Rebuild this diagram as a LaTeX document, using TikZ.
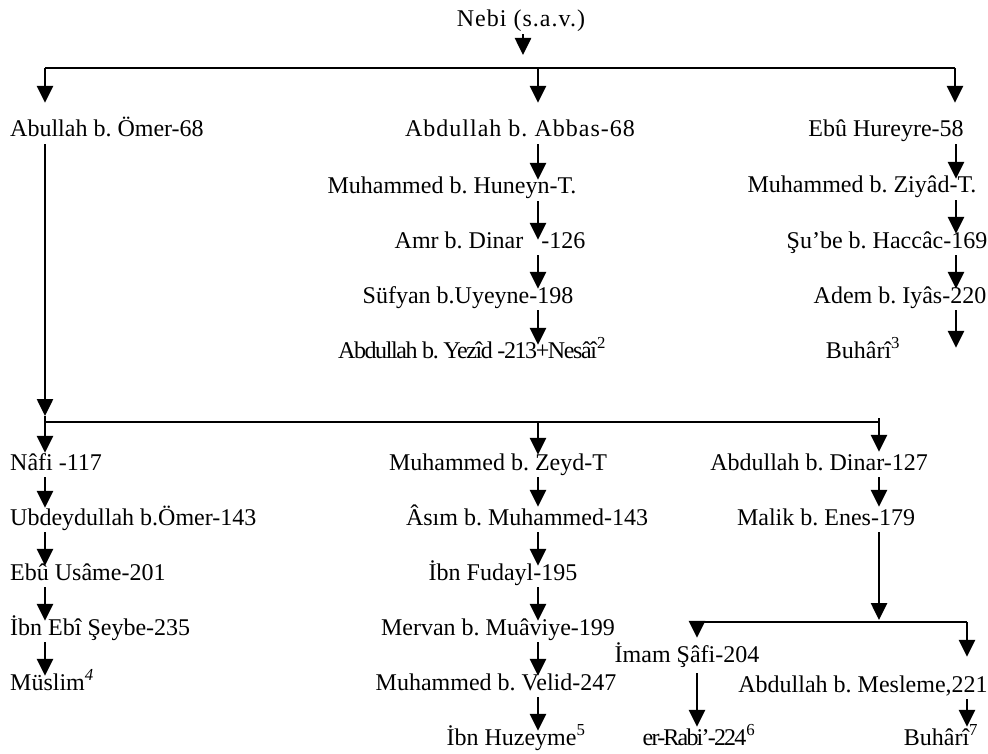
\documentclass[tikz,border=0pt]{standalone}
\usepackage{fontspec}
\setmainfont{Liberation Serif}
\usetikzlibrary{arrows.meta}
\frenchspacing
% tracking adjustments for a few wider or tighter lines
\newcommand{\wide}{\addfontfeatures{LetterSpace=4.2}}
\newcommand{\tight}[1]{\addfontfeatures{LetterSpace=-#1}}
\begin{document}
\begin{tikzpicture}[x=1pt,y=-1pt,
  lbl/.style={inner sep=0pt,text height=14pt,text depth=7pt,font=\fontsize{24}{28}\selectfont},
  arr/.style={line width=2.6pt,-{Triangle[length=17pt,width=16pt]}},
  bus/.style={line width=1.6pt}]
\useasboundingbox (0,0) rectangle (988,754);

% column positions
\coordinate (colL) at (45,0);
\coordinate (colM) at (538,0);
\coordinate (colR) at (956,0);
\coordinate (colD) at (879,0);
\coordinate (colS) at (697,0);
\coordinate (colB) at (967,0);

% top
\node[lbl,anchor=base] (nebi) at (521,27) {\wide Nebi (s.a.v.)};
\coordinate (nebiTip) at (523,55);
\coordinate (busA-L) at (45,68);
\coordinate (busA-R) at (955,68);
\coordinate (busA-M) at (538,68);

% first generation
\node[lbl,anchor=base west] (omer) at (10,137) {Abullah b. Ömer-68};
\node[lbl,anchor=base] (abbas) at (520,137) {\wide Abdullah b. Abbas-68};
\node[lbl,anchor=base] (hureyre) at (886,137) {Ebû Hureyre-58};

% Ibn Abbas chain
\node[lbl,anchor=base] (huneyn) at (452,194) {Muhammed b. Huneyn-T.};
\node[lbl,anchor=base] (amr) at (490,248) {Amr b. Dinar\hspace{0.75em}-126};
\node[lbl,anchor=base] (sufyan) at (468,303) {Süfyan b.Uyeyne-198};
\node[lbl,anchor=base] (yezid) at (472,358) {\tight{5.8}Abdullah b. Yezîd -213+Nesâî\textsuperscript{2}};

% Ebu Hureyre chain
\node[lbl,anchor=base] (ziyad) at (862,193) {Muhammed b. Ziyâd-T.};
\node[lbl,anchor=base] (shube) at (887,248) {Şu’be b. Haccâc-169};
\node[lbl,anchor=base] (adem) at (900,303) {Adem b. Iyâs-220};
\node[lbl,anchor=base] (buhariA) at (863,358) {Buhârî\textsuperscript{3}};

% second branching
\coordinate (busB-L) at (45,422);
\coordinate (busB-R) at (879,422);
\coordinate (busB-M) at (538,422);

\node[lbl,anchor=base west] (nafi) at (10,470) {Nâfi -117};
\node[lbl,anchor=base] (zeyd) at (498,470) {Muhammed b. Zeyd-T};
\node[lbl,anchor=base] (dinar) at (819,470) {Abdullah b. Dinar-127};

% Nafi chain
\node[lbl,anchor=base west] (ubeyd) at (10,525) {Ubdeydullah b.Ömer-143};
\node[lbl,anchor=base west] (usame) at (10,580) {Ebû Usâme-201};
\node[lbl,anchor=base west] (seybe) at (10,635) {İbn Ebî Şeybe-235};
\node[lbl,anchor=base west] (muslim) at (10,690) {Müslim\textsuperscript{\itshape 4}};

% Muhammed b. Zeyd chain
\node[lbl,anchor=base] (asim) at (527,525) {Âsım b. Muhammed-143};
\node[lbl,anchor=base] (fudayl) at (503,580) {İbn Fudayl-195};
\node[lbl,anchor=base] (mervan) at (498,635) {Mervan b. Muâviye-199};
\node[lbl,anchor=base] (velid) at (496,690) {Muhammed b. Velid-247};
\node[lbl,anchor=base] (huzeyme) at (516,745) {İbn Huzeyme\textsuperscript{5}};

% Abdullah b. Dinar chain
\node[lbl,anchor=base] (malik) at (826,525) {Malik b. Enes-179};
\coordinate (busC-L) at (697,622);
\coordinate (busC-R) at (967,622);
\coordinate (busC-M) at (879,622);
\node[lbl,anchor=base] (imam) at (687,662) {İmam Şâfi-204};
\node[lbl,anchor=base] (mesleme) at (863,692) {Abdullah b. Mesleme,221};
\node[lbl,anchor=base] (rabi) at (699,745) {\tight{7.5}er-Rabi’-224\textsuperscript{6}};
\node[lbl,anchor=base] (buhariB) at (941,745) {Buhârî\textsuperscript{7}};

% connectors: top level
\draw[arr] (nebi.south -| nebiTip) -- (nebiTip);
\draw[bus] (busA-L) -- (busA-R);
\draw[arr] (busA-L) -- ([yshift=20pt]omer.north -| colL);
\draw[arr] (busA-M) -- ([yshift=20pt]abbas.north -| colM);
\draw[arr] (busA-R) -- ([yshift=20pt]hureyre.north -| busA-R);

% Ibn Abbas chain
\draw[arr] (abbas.south -| colM) -- (huneyn.north -| colM);
\draw[arr] (huneyn.south -| colM) -- ([yshift=-6pt]amr.north -| colM);
\draw[arr] (amr.south -| colM) -- (sufyan.north -| colM);
\draw[arr] (sufyan.south -| colM) -- ([yshift=-1pt]yezid.north -| colM);

% Ebu Hureyre chain
\draw[arr] (hureyre.south -| colR) -- (ziyad.north -| colR);
\draw[arr] (ziyad.south -| colR) -- (shube.north -| colR);
\draw[arr] (shube.south -| colR) -- (adem.north -| colR);
\draw[arr] (adem.south -| colR) -- ([yshift=-4pt]buhariA.north -| colR);

% Ibn Omer to second branching
\draw[arr] (omer.south -| colL) -- ([yshift=6pt]busB-L);
\draw[bus] (busB-L) -- (busB-R);
\draw[arr] ([yshift=6pt]busB-L) -- ([yshift=3pt]nafi.north -| colL);
\draw[arr] (busB-M) -- ([yshift=1pt]zeyd.north -| colM);
\draw[arr] ([yshift=4pt]busB-R) -- ([yshift=4pt]dinar.north -| colD);

% Nafi chain
\draw[arr] (nafi.south -| colL) -- ([yshift=3pt]ubeyd.north -| colL);
\draw[arr] (ubeyd.south -| colL) -- (usame.north -| colL);
\draw[arr] (usame.south -| colL) -- (seybe.north -| colL);
\draw[arr] (seybe.south -| colL) -- (muslim.north -| colL);

% Muhammed b. Zeyd chain
\draw[arr] (zeyd.south -| colM) -- ([yshift=4pt]asim.north -| colM);
\draw[arr] (asim.south -| colM) -- (fudayl.north -| colM);
\draw[arr] (fudayl.south -| colM) -- (mervan.north -| colM);
\draw[arr] (mervan.south -| colM) -- (velid.north -| colM);
\draw[arr] (velid.south -| colM) -- (huzeyme.north -| colM);

% Abdullah b. Dinar chain
\draw[arr] (dinar.south -| colD) -- ([yshift=4pt]malik.north -| colD);
\draw[arr] (malik.south -| colD) -- ([yshift=2pt]busC-M);
\draw[bus] (busC-L) -- (busC-R);
\draw[arr] (busC-L) -- ([yshift=10pt]imam.north -| colS);
\draw[arr] (busC-R) -- ([yshift=21pt]mesleme.north -| colB);
\draw[arr] ([yshift=-4pt]imam.south -| colS) -- ([yshift=4pt]rabi.north -| colS);
\draw[arr] (mesleme.south -| colB) -- ([yshift=4pt]buhariB.north -| colB);
\end{tikzpicture}
\end{document}
